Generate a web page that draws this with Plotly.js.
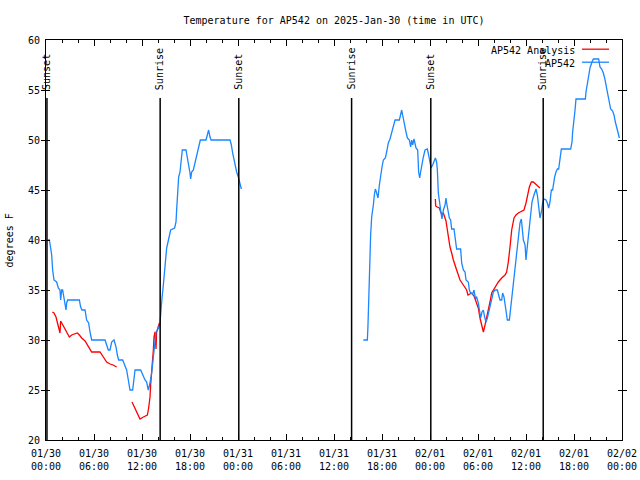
<!DOCTYPE html>
<html>
<head>
<meta charset="utf-8">
<script src="https://cdn.plot.ly/plotly-3.0.1.min.js"></script>
<style>html,body{margin:0;padding:0;background:#fff;}#chart{width:640px;height:480px;}</style>
</head>
<body>
<div id="chart"></div>
<script>
// Hours since 2025-01-30 00:00 UTC
const tickHours = [0, 6, 12, 18, 24, 30, 36, 42, 48, 54, 60, 66, 72];
const tickDates = ["01/30","01/30","01/30","01/30","01/31","01/31","01/31","01/31","02/01","02/01","02/01","02/01","02/02"];
const tickTimes = ["00:00","06:00","12:00","18:00","00:00","06:00","12:00","18:00","00:00","06:00","12:00","18:00","00:00"];
const minorHours = [2,4,8,10,14,16,20,22,26,28,32,34,38,40,44,46,50,52,56,58,62,64,68,70];

const sunEventHours = [0.12, 14.27, 24.1, 38.2, 48.1, 62.15];
const sunEventLabels = ["Sunset", "Sunrise", "Sunset", "Sunrise", "Sunset", "Sunrise"];

const analysisName = "AP542 Analysis";
const stationName = "AP542";

const stationHours = [
0.17,0.42,0.58,0.71,0.83,1.0,1.33,1.54,1.75,1.83,1.96,2.08,2.25,2.42,2.5,2.58,2.71,4.17,4.33,4.5,4.88,5.08,5.33,5.5,5.71,7.38,7.58,7.79,8.0,8.21,8.5,8.75,8.92,9.08,9.58,9.88,10.08,10.29,10.5,10.83,11.0,11.13,11.83,12.08,12.38,12.58,12.79,13.0,13.21,13.42,13.63,13.75,13.92,14.08,14.25,14.33,14.5,14.67,14.79,14.92,15.08,15.25,15.42,15.58,16.08,16.25,16.33,16.46,16.58,16.75,16.88,17.04,17.5,17.67,17.83,18.0,18.08,18.21,18.42,18.63,18.83,19.08,19.29,20.0,20.25,20.33,20.5,20.63,23.0,23.17,23.33,23.54,23.71,23.83,24.04,24.17,24.25,24.42,
null,
39.67,40.17,40.25,40.33,40.46,40.58,40.71,40.83,40.92,41.04,41.17,41.33,41.5,41.67,41.83,42.0,42.17,42.42,42.58,42.79,43.0,43.21,43.42,43.63,44.17,44.33,44.46,44.58,44.79,45.0,45.17,45.42,45.58,45.71,45.83,46.0,46.25,46.46,46.58,46.71,46.83,47.0,47.17,47.38,47.67,47.83,48.0,48.13,48.33,48.5,48.67,48.83,48.92,49.04,49.25,49.38,49.5,49.67,49.88,50.0,50.08,50.25,50.42,50.58,50.71,51.0,51.17,51.33,51.83,51.96,52.17,52.38,52.5,52.79,52.92,53.08,53.33,53.5,53.67,53.83,54.04,54.17,54.33,54.5,54.67,54.83,55.0,55.17,55.33,55.5,55.71,55.92,56.13,56.42,56.58,56.75,56.96,57.08,57.25,57.38,57.5,57.67,57.92,58.08,58.25,58.42,58.58,58.71,58.83,58.96,59.13,59.25,59.42,59.5,59.67,59.88,60.0,60.08,60.25,60.42,60.58,60.75,60.92,61.13,61.25,61.42,61.58,61.75,61.92,62.08,62.25,62.5,62.67,62.83,63.0,63.17,63.33,63.42,63.58,63.75,63.92,64.08,64.25,64.42,65.58,65.75,65.83,66.0,66.13,66.25,67.42,67.5,67.67,67.79,68.0,68.25,68.42,69.08,69.25,69.46,69.67,69.83,70.0,70.17,70.33,70.58,70.83,71.0,71.17,71.33,71.5,71.67
];
const stationTemps = [
40,40,39.2,38.5,37,36,35.8,35.2,35,34,35,35,34.2,33.3,33,33.7,34,34,33.3,33,33,32,31.7,30.8,30,30,29.5,29,29,29.8,30,29.3,28.5,28,28,27.5,27,26,25,25,26.5,27,27,26.5,26,25.8,25,25.7,26.7,28.3,30,30.8,31,31.2,31.7,32.7,34.2,35.5,36.5,37.5,39.2,39.8,40.3,41,41.2,41.8,43,45,46.3,46.8,47.7,49,49,48.3,47.7,46.7,46.1,46.8,47,47.7,48.5,49.5,50,50,50.8,51,50.3,50,50,49.5,48.7,47.8,47.2,46.8,46.3,45.8,45.5,45.1,
null,
30,30,31.5,34.5,37.5,40.5,42.3,42.8,43.5,44.5,45.1,44.7,44.2,45.5,46.5,47.3,48,48.2,48.8,49.7,50.1,50.8,51.5,52,52,52.7,53,52.5,51.5,50.8,50.2,50,49.3,50,49.5,50.1,49.2,49,46.8,46.2,46.8,47.8,48.3,49,49.1,48.5,47.7,47.2,47.5,47.8,48.2,47.8,47,44.7,43.2,42.7,42.1,43,43.5,44.2,43.7,42.8,42.2,42,41.1,41.1,39.8,39.1,39.1,37.7,37,36.8,36,35.8,35,34.7,34.6,35,34.2,34.3,33.7,32.8,32.2,32.8,33,32.3,31.8,32.2,32.8,33.5,34.3,34.8,35,35,34.5,34,34,34.7,34.3,33.5,32.7,32,32,33.2,34.3,35.3,36.5,37.5,38.7,39.7,41,41.7,42.1,41.3,40,39.5,38,38.7,40,41.7,43,43.8,44.3,44.8,45.1,44.5,43.3,42.2,42.8,43.7,44.1,44,43.7,43.2,43.8,45,45,45.7,46.3,46.8,47.1,47.1,48.2,49.1,49.1,49.8,50.8,51.8,53,54.1,54.1,54.8,55.5,56.3,57.2,57.8,58.1,58.1,57.3,57.1,56.7,56.2,55.5,54.8,54,53.1,52.9,52.5,51.8,51.2,50.7,50.2
];

const analysisHours = [
0.79,1.0,1.25,1.54,1.75,1.83,1.96,2.25,2.5,2.79,2.92,3.21,3.63,3.92,4.17,4.46,4.88,5.29,5.71,6.13,6.75,7.17,7.58,8.0,8.4,8.83,
null,
10.75,11.13,11.54,11.75,12.17,12.67,12.83,13.0,13.08,13.17,13.29,13.42,13.5,13.63,13.75,13.83,14.04,14.17,
null,
48.67,48.71,48.9,49.17,49.33,49.46,49.67,49.88,50.0,50.17,50.33,50.5,50.71,50.92,51.33,51.75,52.17,52.58,52.75,53.21,53.5,53.75,54.04,54.25,54.46,54.67,54.88,55.08,55.29,55.5,55.71,56.0,56.25,56.54,56.96,57.38,57.58,57.79,58.0,58.21,58.5,58.75,59.04,59.46,59.75,60.0,60.17,60.42,60.67,60.92,61.33,61.75
];
const analysisTemps = [
32.8,32.7,32.3,31.5,30.7,31.9,31.7,31.3,31.0,30.5,30.3,30.5,30.6,30.7,30.5,30.2,29.9,29.4,28.8,28.8,28.8,28.3,27.8,27.6,27.5,27.3,
null,
23.8,23.2,22.5,22.1,22.3,22.5,23.2,24.3,25.5,26.2,27.7,29,30.3,30.8,29.1,30.8,31.5,31.7,
null,
44.1,43.4,43.3,43.2,42.8,42.6,42.7,42.3,41.9,41,40,39.3,38.7,38,37,36,35.5,35,34.5,34.7,34.4,33.8,33.2,32.2,31.5,30.8,31.5,32.2,32.8,33.8,34.7,35.1,35.5,35.8,36.2,36.5,36.8,37.8,39.3,41,42.2,42.5,42.7,42.9,43,43.7,44.5,45.3,45.8,45.8,45.5,45.2
];

const RED = "#ff0000";
const BLUE = "#1a86ff";
const FONT = "DejaVu Sans Mono, Liberation Mono, monospace";

const traces = [
  {x: analysisHours, y: analysisTemps, type: "scatter", mode: "lines", name: analysisName,
   line: {color: RED, width: 1.3}, connectgaps: false, hoverinfo: "skip"},
  {x: stationHours, y: stationTemps, type: "scatter", mode: "lines", name: stationName,
   line: {color: BLUE, width: 1.3}, connectgaps: false, hoverinfo: "skip"},
  // empty helper trace so the second (time-of-day) label row axis is drawn
  {x: [null], y: [null], xaxis: "x2", yaxis: "y", type: "scatter", mode: "lines",
   showlegend: false, hoverinfo: "skip"}
];

const shapes = [];
const annotations = [];
sunEventHours.forEach((h, i) => {
  shapes.push({type: "line", xref: "x", yref: "paper", x0: h, x1: h, y0: 0, y1: 0.855,
               line: {color: "black", width: 1.5}});
  annotations.push({xref: "x", yref: "paper", x: h, y: 0.8725, text: sunEventLabels[i],
                    textangle: -90, showarrow: false, xanchor: "center", yanchor: "bottom",
                    font: {family: FONT, size: 10, color: "black"}, borderpad: 0});
});

// legend (gnuplot style: text then sample line)
const legendRows = [[analysisName, RED, 0.975], [stationName, BLUE, 0.9425]];
legendRows.forEach(([name, col, y]) => {
  annotations.push({xref: "paper", yref: "paper", x: 0.92, y: y, text: name, showarrow: false,
                    xanchor: "right", yanchor: "middle", font: {family: FONT, size: 10, color: "black"}, borderpad: 0});
  shapes.push({type: "line", xref: "paper", yref: "paper", x0: 0.9304, x1: 0.9774, y0: y + 0.002, y1: y + 0.002,
               line: {color: col, width: 1.3}});
});

// y-axis title
annotations.push({xref: "paper", yref: "paper", x: -0.0635, y: 0.5, text: "degrees F", textangle: -90,
                  showarrow: false, xanchor: "center", yanchor: "middle",
                  font: {family: FONT, size: 10, color: "black"}});

const layout = {
  width: 640, height: 480,
  margin: {l: 46, r: 18, t: 40, b: 40},
  paper_bgcolor: "white", plot_bgcolor: "white",
  showlegend: false,
  font: {family: FONT, size: 10, color: "black"},
  title: {text: "Temperature for AP542 on 2025-Jan-30 (time in UTC)", x: 0.5, xref: "paper",
          y: 1 - 20 / 480, yref: "container", yanchor: "middle", xanchor: "center",
          font: {family: FONT, size: 10, color: "black"}},
  xaxis: {
    range: [0, 72], tickmode: "array", tickvals: tickHours, ticktext: tickDates,
    ticks: "inside", ticklen: 6, tickwidth: 1, tickcolor: "black",
    showline: true, linecolor: "black", linewidth: 1, mirror: "allticks",
    showgrid: false, zeroline: false, fixedrange: true, ticklabelstandoff: 4,
    tickfont: {family: FONT, size: 10, color: "black"},
    minor: {tickmode: "array", tickvals: minorHours, ticks: "inside", ticklen: 3, tickcolor: "black", showgrid: false}
  },
  xaxis2: {
    overlaying: "x", anchor: "y", side: "bottom",
    range: [0, 72], tickmode: "array", tickvals: tickHours, ticktext: tickTimes,
    ticks: "", showline: false, showgrid: false, zeroline: false, fixedrange: true,
    ticklabelstandoff: 19,
    tickfont: {family: FONT, size: 10, color: "black"}
  },
  yaxis: {
    range: [20, 60], tick0: 20, dtick: 5, tickmode: "linear",
    ticks: "inside", ticklen: 4, tickwidth: 1, tickcolor: "black",
    showline: true, linecolor: "black", linewidth: 1, mirror: "allticks",
    showgrid: false, zeroline: false, fixedrange: true, ticklabelstandoff: 3,
    tickfont: {family: FONT, size: 10, color: "black"}
  },
  shapes: shapes,
  annotations: annotations
};

Plotly.newPlot("chart", traces, layout, {staticPlot: true, displayModeBar: false});
</script>
</body>
</html>
